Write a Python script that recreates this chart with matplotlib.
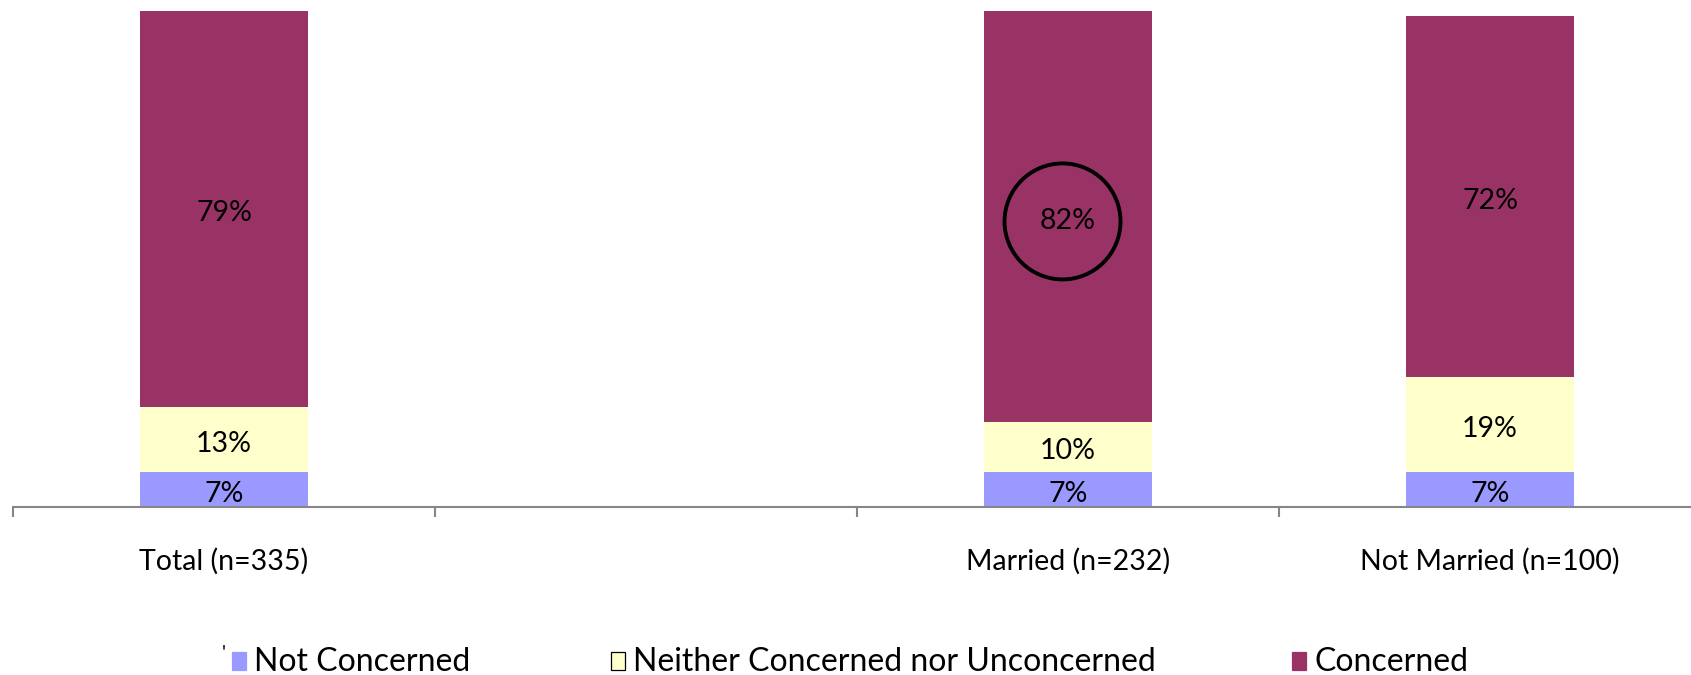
import matplotlib
matplotlib.use("Agg")
import matplotlib.pyplot as plt
from matplotlib.patches import Ellipse, Rectangle
from matplotlib.transforms import ScaledTranslation
from matplotlib import font_manager
import numpy as np

categories = ["Total (n=335)", "", "Married (n=232)", "Not Married (n=100)"]
series_names = ["Not Concerned", "Neither Concerned nor Unconcerned", "Concerned"]
not_concerned = [7, None, 7, 7]
neither = [13, None, 10, 19]
concerned = [79, None, 82, 72]
colors = ["#9999FF", "#FFFFCC", "#993366"]
highlight_index = 2  # circled label (Married, Concerned)

names = {f.name for f in font_manager.fontManager.ttflist}
main_font = "Lato" if "Lato" in names else "DejaVu Sans"

W, H = 1691, 675
fig = plt.figure(figsize=(W / 100, H / 100), dpi=100)
ax = fig.add_axes([13 / W, 168 / H, 4 * 422 / W, 501 / H])

label_shift = ax.transData + ScaledTranslation(0, -4.5 / 100, fig.dpi_scale_trans)

x = np.arange(len(categories))
series = [not_concerned, neither, concerned]
bottoms = np.zeros(len(categories))
centers = []
for vals, col in zip(series, colors):
    v = np.array([0 if a is None else a for a in vals], dtype=float)
    mask = np.array([a is not None for a in vals])
    ax.bar(x[mask], v[mask], 0.4, bottom=bottoms[mask], color=col,
           edgecolor="none", linewidth=0)
    cen = bottoms + v / 2
    for i in range(len(categories)):
        if mask[i]:
            ax.text(x[i], cen[i], f"{int(v[i])}%", ha="center", va="center",
                    fontsize=20.5, family=main_font, color="black",
                    transform=label_shift)
    centers.append(cen)
    bottoms = bottoms + v

# circle around the highlighted value
cy = centers[2][highlight_index]
ax.add_patch(Ellipse((x[highlight_index] - 0.013, cy - 1.0), 2 * 58 / 422, 2 * 58 / 5.01,
                     fill=False, edgecolor="black", linewidth=2.8, zorder=5))

ax.set_xlim(-0.5, len(categories) - 0.5)
ax.set_ylim(0, 100)
for s in ["top", "right", "left"]:
    ax.spines[s].set_visible(False)
ax.spines["bottom"].set_color("#868686")
ax.spines["bottom"].set_linewidth(1.5)
ax.set_yticks([])
ax.set_xticks(np.arange(len(categories) + 1) - 0.5)
ax.set_xticklabels([])
ax.tick_params(axis="x", which="major", length=7, width=1.5, color="#868686")
ax.set_xticks(x, minor=True)
ax.set_xticklabels(categories, minor=True, fontsize=20.5, family=main_font)
ax.tick_params(axis="x", which="minor", length=0, pad=29.5)

# legend, placed entry by entry
leg_y = 662
marker_x = [232, 611, 1292]
for name, col, mx in zip(series_names, colors, marker_x):
    ec = "black" if col == "#FFFFCC" else col
    fig.patches.append(Rectangle((mx / W, 1 - (leg_y + 8) / H), 14 / W, 18 / H,
                                 facecolor=col, edgecolor=ec, linewidth=0.9,
                                 transform=fig.transFigure, figure=fig))
    fig.text((mx + 22) / W, 1 - leg_y / H, name, fontsize=23, family=main_font,
             ha="left", va="center")
fig.text(224 / W, 1 - 653 / H, "'", fontsize=14, family=main_font, ha="center", va="center")

fig.savefig("out.png", dpi=100)
